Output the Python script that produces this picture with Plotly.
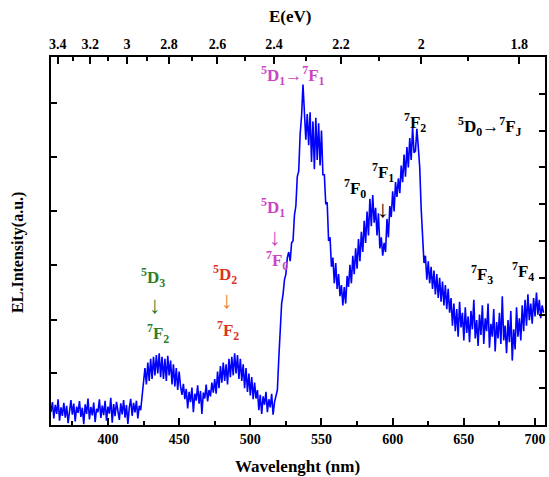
import plotly.graph_objects as go

# ---------------- data ----------------
wavelength = list(range(360, 707))  # nm, 1 nm step

base_360_424 = [0.35, 0.62, 0.18, 0.55, 0.30, 0.70, 0.12, 0.48, 0.25, 0.60,
                0.20, 0.52, 0.05, 0.45, 0.68, 0.28, 0.58, 0.10, 0.50, 0.33,
                0.65, 0.22, 0.47, 0.02, 0.56, 0.30, 0.72, 0.15, 0.49, 0.26,
                0.61, 0.08, 0.44, 0.35, 0.70, 0.19, 0.53, 0.27, 0.66, 0.12,
                0.50, 0.31, 0.74, 0.06, 0.57, 0.24, 0.63, 0.38, 0.14, 0.59,
                0.29, 0.68, 0.20, 0.54, 0.03, 0.47, 0.71, 0.25, 0.60, 0.34,
                0.66, 0.18, 0.52, 0.40, 0.75]
d3_425_450 = [1.05, 1.55, 1.10, 1.70, 1.20, 1.80, 1.25, 1.85, 1.35, 1.90,
              1.40, 1.95, 1.30, 1.85, 1.25, 1.80, 1.20, 1.88, 1.35, 1.75,
              1.10, 1.65, 1.05, 1.55, 0.95, 1.45]
gap_451_474 = [1.05, 0.82, 1.12, 0.70, 0.98, 0.45, 0.90, 0.62, 1.02, 0.35,
               0.85, 0.66, 1.08, 0.58, 0.92, 0.30, 0.88, 0.72, 1.10, 0.64,
               0.95, 0.78, 1.15, 0.88]
d2_475_503 = [1.25, 0.85, 1.45, 1.00, 1.60, 1.15, 1.70, 1.20, 1.65, 1.10,
              1.80, 1.30, 1.85, 1.35, 1.95, 1.40, 1.90, 1.25, 1.80, 1.20,
              1.65, 1.00, 1.55, 0.90, 1.40, 0.80, 1.30, 0.70, 1.15]
gap_504_518 = [0.72, 0.95, 0.40, 0.82, 0.30, 0.78, 0.55, 0.90, 0.35, 0.70,
               0.48, 0.85, 0.28, 0.62, 0.75]
d1_519_551 = [0.95, 1.80, 2.70, 3.30, 3.55, 3.95, 4.10, 4.55, 4.70, 4.45,
              4.95, 5.00, 5.70, 5.95, 6.75, 6.90, 7.90, 8.40, 9.25, 8.30,
              7.75, 8.45, 7.60, 8.50, 7.15, 8.25, 6.95, 8.35, 7.20, 8.20,
              7.05, 8.00, 6.80]
f0_552_599 = [6.80, 6.00, 6.05, 5.00, 5.10, 4.30, 4.55, 3.85, 4.40, 3.70,
              4.10, 3.50, 3.80, 3.25, 3.75, 3.30, 4.05, 3.75, 4.35, 3.85,
              4.60, 4.10, 4.80, 4.25, 5.05, 4.45, 5.25, 4.70, 5.55, 4.95,
              5.80, 5.15, 6.15, 5.40, 6.25, 5.50, 5.90, 5.15, 5.75, 4.80,
              5.10, 4.60, 4.95, 4.70, 5.60, 5.10, 5.95, 5.65]
f2_600_640 = [6.35, 5.80, 6.60, 6.20, 6.70, 6.30, 7.05, 6.60, 7.35, 6.75,
              7.55, 7.00, 7.80, 7.20, 8.10, 7.40, 7.45, 8.05, 7.55, 7.00,
              5.90, 5.10, 4.40, 4.60, 3.95, 4.45, 3.85, 4.30, 3.70, 4.20,
              3.55, 4.10, 3.45, 4.00, 3.35, 3.90, 3.25, 3.80, 3.15, 3.70,
              3.05]
f34_641_706 = [3.45, 2.70, 3.30, 2.55, 3.15, 2.40, 3.35, 2.65, 3.05, 2.30,
               3.20, 2.50, 2.95, 2.25, 3.10, 2.60, 3.40, 2.35, 2.85, 2.15,
               3.00, 2.45, 3.25, 2.20, 2.90, 2.55, 3.30, 2.10, 2.75, 2.40,
               3.15, 2.00, 2.80, 2.35, 3.05, 2.20, 3.50, 2.30, 2.70, 1.95,
               2.85, 2.25, 3.10, 1.75, 2.60, 2.05, 3.20, 2.40, 2.90, 2.30,
               3.25, 2.55, 3.40, 2.70, 3.55, 2.85, 3.30, 2.75, 3.45, 2.95,
               3.60, 3.00, 3.40, 2.90, 3.25, 3.05]

intensity = (base_360_424 + d3_425_450 + gap_451_474 + d2_475_503 + gap_504_518
             + d1_519_551 + f0_552_599 + f2_600_640 + f34_641_706)
assert len(intensity) == len(wavelength), (len(intensity), len(wavelength))

bottom_ticks = [400, 450, 500, 550, 600, 650, 700]
energy_major = [3.4, 3.2, 3.0, 2.8, 2.6, 2.4, 2.2, 2.0, 1.8]
energy_labels = ["3.4", "3.2", "3", "2.8", "2.6", "2.4", "2.2", "2", "1.8"]
energy_minor = [3.3, 3.1, 2.9, 2.7, 2.5, 2.3, 2.1, 1.9]
left_ticks = [1.41, 2.85, 4.35, 5.82, 7.28, 8.75]
right_ticks = [1, 2, 3, 4, 5, 6, 7, 8, 9]

X_RANGE = [360, 707]
Y_RANGE = [0, 10]

FONT = "Times New Roman, Liberation Serif, serif"
MAG = "#cc44c4"
GREEN = "#2f7f2a"
RED = "#dd3322"
ORANGE = "#e8823a"

fig = go.Figure()
fig.add_trace(go.Scatter(x=wavelength, y=intensity, mode="lines",
                         line=dict(color="#0000ff", width=1.6),
                         showlegend=False, hoverinfo="skip"))
# helper trace so the top / right axes exist
fig.add_trace(go.Scatter(x=[wavelength[0]], y=[0], mode="markers", opacity=0,
                         xaxis="x2", yaxis="y2", showlegend=False, hoverinfo="skip"))

tickfont = dict(family=FONT, size=14, color="black", weight="bold")
axis_common = dict(showline=True, linecolor="black", linewidth=2, ticks="inside",
                   tickcolor="black", tickwidth=2, showgrid=False, zeroline=False,
                   tickfont=tickfont)

fig.update_layout(
    width=549, height=477,
    margin=dict(l=51, r=4, t=57, b=52),
    paper_bgcolor="white", plot_bgcolor="white",
    font=dict(family=FONT),
    xaxis=dict(range=X_RANGE, tickvals=bottom_ticks, ticklen=7,
               minor=dict(dtick=25, tick0=375, ticks="inside", ticklen=4,
                          tickwidth=2, tickcolor="black"),
               **axis_common),
    xaxis2=dict(range=X_RANGE, overlaying="x", side="top",
                tickvals=[1240 / e for e in energy_major], ticktext=energy_labels,
                ticklen=7,
                minor=dict(tickvals=[1240 / e for e in energy_minor], ticks="inside",
                           ticklen=4, tickwidth=2, tickcolor="black"),
                **axis_common),
    yaxis=dict(range=Y_RANGE, tickvals=left_ticks, ticklen=6,
               showticklabels=False, **axis_common),
    yaxis2=dict(range=Y_RANGE, overlaying="y", side="right", tickvals=right_ticks,
                ticklen=6, showticklabels=False, **axis_common),
)

def lab(text, x, y, color="black", size=17, bold=True):
    t = f"<b>{text}</b>" if bold else text
    fig.add_annotation(x=x, y=y, xref="x", yref="y", text=t, showarrow=False,
                       font=dict(family=FONT, size=size, color=color),
                       xanchor="center", yanchor="middle")

def title(text, x, y, angle=0, size=17):
    fig.add_annotation(xref="paper", yref="paper", x=x, y=y, text=f"<b>{text}</b>",
                       showarrow=False, textangle=angle, xanchor="center",
                       yanchor="middle",
                       font=dict(family=FONT, size=size, color="black"))

# axis titles
title("Wavelenght (nm)", 0.498, -0.112)
title("E(eV)", 0.484, 1.109)
title("EL.Intensity(a.u.)", -0.067, 0.47, angle=-90, size=16)

# transition labels
lab("<sup>5</sup>D<sub>1</sub>→<sup>7</sup>F<sub>1</sub>", 530.0, 9.51, MAG)
lab("<sup>5</sup>D<sub>0</sub>→<sup>7</sup>F<sub>J</sub>", 668.4, 8.10)
lab("<sup>7</sup>F<sub>2</sub>", 615.8, 8.23)
lab("<sup>7</sup>F<sub>1</sub>", 593.3, 6.85)
lab("↓", 593.3, 5.87, size=24, bold=False)
lab("<sup>7</sup>F<sub>0</sub>", 573.7, 6.44)

lab("<sup>5</sup>D<sub>1</sub>", 516.1, 5.90, MAG)
lab("↓", 517.5, 5.11, MAG, size=24, bold=False)
lab("<sup>7</sup>F<sub>0</sub>", 518.9, 4.48, MAG)

lab("<sup>5</sup>D<sub>3</sub>", 431.9, 4.02, GREEN)
lab("↓", 433.3, 3.26, GREEN, size=24, bold=False)
lab("<sup>7</sup>F<sub>2</sub>", 435.4, 2.50, GREEN)

lab("<sup>5</sup>D<sub>2</sub>", 482.5, 4.08, RED)
lab("↓", 483.9, 3.40, ORANGE, size=24, bold=False)
lab("<sup>7</sup>F<sub>2</sub>", 484.6, 2.58, RED)

lab("<sup>7</sup>F<sub>3</sub>", 662.8, 4.08)
lab("<sup>7</sup>F<sub>4</sub>", 691.6, 4.16)

fig.write_html("out.html")
